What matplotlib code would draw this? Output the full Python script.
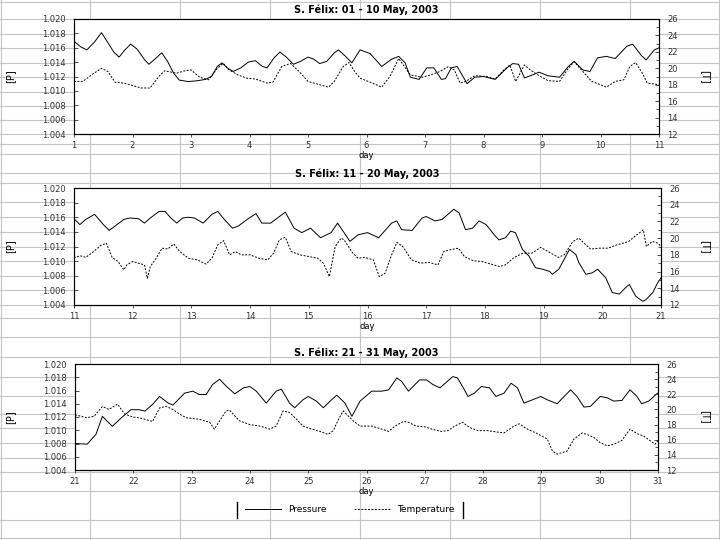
import numpy as np
import matplotlib
matplotlib.use("Agg")
import matplotlib.pyplot as plt
from matplotlib.lines import Line2D
from matplotlib.ticker import FormatStrFormatter, MultipleLocator

#### Data ####
# pressure [bar] and temperature [C] as (day, value) pairs

titles = ["S. Félix: 01 - 10 May, 2003",
          "S. Félix: 11 - 20 May, 2003",
          "S. Félix: 21 - 31 May, 2003"]
day_ranges = [(1, 11), (11, 21), (21, 31)]

p1 = [(1.00, 1.0169), (1.12, 1.0161), (1.22, 1.0157), (1.35, 1.0168), (1.47, 1.0181), (1.58, 1.0167),
      (1.68, 1.0154), (1.77, 1.0147), (1.87, 1.0157), (1.97, 1.0165), (2.08, 1.0158), (2.20, 1.0144),
      (2.28, 1.0137), (2.38, 1.0144), (2.50, 1.0153), (2.60, 1.0141), (2.70, 1.0125), (2.80, 1.0115),
      (2.95, 1.0113), (3.10, 1.0114), (3.25, 1.0116), (3.35, 1.0120), (3.45, 1.0134), (3.53, 1.0139),
      (3.62, 1.0132), (3.72, 1.0127), (3.85, 1.0132), (3.98, 1.0140), (4.10, 1.0142), (4.22, 1.0134),
      (4.30, 1.0132), (4.42, 1.0146), (4.52, 1.0154), (4.63, 1.0147), (4.75, 1.0137), (4.87, 1.0141),
      (5.00, 1.0147), (5.10, 1.0144), (5.20, 1.0138), (5.32, 1.0141), (5.45, 1.0153), (5.52, 1.0157),
      (5.63, 1.0149), (5.75, 1.0139), (5.89, 1.0157), (6.06, 1.0152), (6.26, 1.0134), (6.43, 1.0144),
      (6.55, 1.0148), (6.66, 1.0139), (6.75, 1.0119), (6.90, 1.0116), (7.03, 1.0132), (7.15, 1.0132),
      (7.28, 1.0116), (7.35, 1.0117), (7.45, 1.0132), (7.55, 1.0134), (7.72, 1.0110), (7.85, 1.0119),
      (8.00, 1.0120), (8.20, 1.0116), (8.40, 1.0132), (8.50, 1.0138), (8.60, 1.0137), (8.70, 1.0118),
      (8.80, 1.0121), (8.95, 1.0126), (9.10, 1.0121), (9.30, 1.0119), (9.45, 1.0134), (9.55, 1.0141),
      (9.70, 1.0129), (9.82, 1.0127), (9.95, 1.0146), (10.10, 1.0148), (10.25, 1.0145), (10.45, 1.0162),
      (10.55, 1.0165), (10.70, 1.0149), (10.78, 1.0143), (10.92, 1.0157), (11.00, 1.0160)]

t1 = [(1.0, 18.4), (1.15, 18.4), (1.3, 19.2), (1.47, 20.0), (1.58, 19.6), (1.7, 18.3), (1.85, 18.2),
      (2.0, 17.9), (2.15, 17.6), (2.3, 17.6), (2.45, 19.0), (2.55, 19.7), (2.75, 19.4), (2.9, 19.7),
      (3.0, 19.8), (3.15, 18.9), (3.3, 18.6), (3.45, 20.0), (3.55, 20.6), (3.65, 19.8), (3.8, 19.2),
      (3.95, 18.8), (4.1, 18.7), (4.3, 18.2), (4.4, 18.3), (4.55, 20.2), (4.7, 20.6), (4.85, 19.6),
      (5.0, 18.4), (5.2, 18.0), (5.35, 17.7), (5.45, 18.4), (5.6, 20.2), (5.7, 20.7), (5.8, 19.6),
      (5.89, 18.8), (6.1, 18.2), (6.26, 17.7), (6.4, 19.0), (6.55, 21.2), (6.65, 20.2), (6.75, 19.2),
      (6.95, 18.9), (7.1, 19.2), (7.25, 19.6), (7.4, 20.2), (7.5, 19.8), (7.6, 18.2), (7.7, 18.4),
      (7.85, 19.1), (8.05, 19.0), (8.2, 18.7), (8.35, 19.8), (8.45, 20.4), (8.55, 18.4), (8.7, 20.4),
      (8.8, 19.8), (8.95, 19.1), (9.1, 18.5), (9.3, 18.4), (9.45, 20.0), (9.55, 20.8), (9.7, 19.6),
      (9.85, 18.4), (10.0, 18.0), (10.1, 17.7), (10.25, 18.4), (10.4, 18.6), (10.5, 20.2), (10.6, 20.7),
      (10.7, 19.6), (10.8, 18.2), (11.0, 18.0)]

p2 = [(11.0, 1.0158), (11.1, 1.0150), (11.2, 1.0157), (11.35, 1.0164), (11.5, 1.0150), (11.6, 1.0142),
      (11.7, 1.0148), (11.85, 1.0157), (11.95, 1.0159), (12.1, 1.0158), (12.2, 1.0152), (12.3, 1.0159),
      (12.45, 1.0168), (12.55, 1.0168), (12.65, 1.0159), (12.75, 1.0152), (12.85, 1.0159), (12.95, 1.0160),
      (13.05, 1.0159), (13.2, 1.0152), (13.35, 1.0164), (13.45, 1.0168), (13.55, 1.0158), (13.7, 1.0145),
      (13.8, 1.0148), (13.95, 1.0157), (14.1, 1.0165), (14.2, 1.0152), (14.35, 1.0152), (14.5, 1.0161),
      (14.6, 1.0167), (14.75, 1.0145), (14.88, 1.0139), (15.03, 1.0145), (15.2, 1.0132), (15.38, 1.0139),
      (15.49, 1.0152), (15.6, 1.0139), (15.7, 1.0127), (15.84, 1.0136), (16.0, 1.0139), (16.19, 1.0132),
      (16.41, 1.0152), (16.5, 1.0155), (16.58, 1.0143), (16.76, 1.0142), (16.93, 1.0159), (17.0, 1.0161),
      (17.15, 1.0155), (17.27, 1.0157), (17.37, 1.0164), (17.47, 1.0171), (17.56, 1.0166), (17.67, 1.0143),
      (17.79, 1.0145), (17.9, 1.0155), (18.02, 1.0150), (18.18, 1.0134), (18.24, 1.0129), (18.35, 1.0132),
      (18.44, 1.0141), (18.52, 1.0139), (18.64, 1.0116), (18.75, 1.0107), (18.86, 1.0091), (18.98, 1.0089),
      (19.1, 1.0086), (19.15, 1.0082), (19.26, 1.0089), (19.38, 1.0107), (19.44, 1.0116), (19.55, 1.0109),
      (19.6, 1.0098), (19.72, 1.0082), (19.83, 1.0084), (19.92, 1.0089), (20.06, 1.0077), (20.17, 1.0057),
      (20.29, 1.0055), (20.4, 1.0064), (20.46, 1.0068), (20.57, 1.0052), (20.69, 1.0045), (20.74, 1.0047),
      (20.86, 1.0057), (20.94, 1.0070), (21.0, 1.0077)]

t2 = [(11.0, 17.6), (11.1, 17.9), (11.2, 17.7), (11.3, 18.2), (11.45, 19.1), (11.55, 19.4), (11.65, 17.7),
      (11.75, 17.2), (11.85, 16.2), (11.9, 16.8), (12.0, 17.2), (12.1, 17.0), (12.2, 16.8), (12.25, 15.2),
      (12.3, 16.6), (12.4, 17.6), (12.5, 18.8), (12.6, 18.7), (12.7, 19.3), (12.8, 18.4), (12.95, 17.6),
      (13.1, 17.4), (13.25, 16.9), (13.35, 17.6), (13.45, 19.2), (13.55, 19.7), (13.65, 18.0), (13.75, 18.4),
      (13.85, 18.0), (14.0, 18.0), (14.15, 17.6), (14.3, 17.4), (14.4, 18.2), (14.5, 19.8), (14.6, 20.1),
      (14.7, 18.4), (14.85, 18.0), (15.0, 17.8), (15.15, 17.6), (15.25, 17.0), (15.35, 15.4), (15.45, 19.0),
      (15.55, 20.0), (15.6, 19.8), (15.75, 18.2), (15.84, 17.6), (15.95, 17.7), (16.1, 17.4), (16.2, 15.4),
      (16.3, 15.8), (16.4, 17.8), (16.5, 19.5), (16.6, 19.0), (16.75, 17.4), (16.9, 17.0), (17.05, 17.1),
      (17.2, 16.8), (17.3, 18.4), (17.4, 18.6), (17.55, 18.8), (17.65, 17.8), (17.8, 17.3), (17.95, 17.2),
      (18.1, 16.9), (18.25, 16.6), (18.35, 16.8), (18.5, 17.7), (18.65, 18.2), (18.8, 18.2), (18.95, 18.9),
      (19.1, 18.3), (19.25, 17.7), (19.35, 18.0), (19.5, 19.6), (19.6, 20.0), (19.72, 19.2), (19.8, 18.7),
      (19.95, 18.8), (20.1, 18.8), (20.25, 19.2), (20.45, 19.6), (20.55, 20.2), (20.7, 21.0), (20.75, 19.0),
      (20.85, 19.6), (20.95, 19.4), (21.0, 19.0)]

p3 = [(21.0, 1.0080), (21.21, 1.0079), (21.36, 1.0094), (21.47, 1.0121), (21.64, 1.0106), (21.81, 1.0120),
      (21.96, 1.0131), (22.1, 1.0131), (22.2, 1.0129), (22.33, 1.0139), (22.45, 1.0151), (22.6, 1.0141),
      (22.68, 1.0138), (22.88, 1.0156), (23.02, 1.0159), (23.13, 1.0154), (23.25, 1.0154), (23.36, 1.0169),
      (23.48, 1.0177), (23.6, 1.0166), (23.74, 1.0155), (23.89, 1.0164), (24.0, 1.0166), (24.11, 1.0159),
      (24.28, 1.0141), (24.45, 1.0159), (24.54, 1.0162), (24.68, 1.0141), (24.77, 1.0134), (24.91, 1.0146),
      (25.0, 1.0151), (25.14, 1.0144), (25.26, 1.0134), (25.4, 1.0146), (25.49, 1.0153), (25.63, 1.0141),
      (25.75, 1.0121), (25.89, 1.0144), (26.09, 1.0159), (26.26, 1.0159), (26.38, 1.0161), (26.52, 1.0179),
      (26.6, 1.0174), (26.72, 1.0159), (26.91, 1.0176), (27.03, 1.0176), (27.14, 1.0169), (27.26, 1.0164),
      (27.48, 1.0181), (27.56, 1.0179), (27.68, 1.0161), (27.74, 1.0151), (27.85, 1.0156), (27.97, 1.0166),
      (28.11, 1.0164), (28.22, 1.0151), (28.36, 1.0156), (28.48, 1.0171), (28.59, 1.0164), (28.7, 1.0141),
      (28.82, 1.0145), (28.99, 1.0151), (29.1, 1.0146), (29.27, 1.0140), (29.39, 1.0151), (29.5, 1.0161),
      (29.61, 1.0151), (29.73, 1.0135), (29.84, 1.0136), (30.01, 1.0151), (30.13, 1.0149), (30.24, 1.0144),
      (30.38, 1.0145), (30.52, 1.0161), (30.64, 1.0151), (30.72, 1.0140), (30.84, 1.0144), (30.98, 1.0155),
      (31.0, 1.0156)]

t3 = [(21.0, 19.3), (21.1, 19.1), (21.2, 18.9), (21.33, 19.1), (21.47, 20.4), (21.58, 20.0), (21.73, 20.7),
      (21.85, 19.4), (21.99, 19.0), (22.1, 18.9), (22.2, 18.7), (22.33, 18.4), (22.45, 20.2), (22.56, 20.4),
      (22.68, 20.0), (22.79, 19.4), (22.91, 18.9), (23.13, 18.7), (23.31, 18.3), (23.39, 17.4), (23.59, 19.8),
      (23.65, 19.9), (23.82, 18.5), (24.0, 18.0), (24.17, 17.8), (24.34, 17.4), (24.45, 17.8), (24.57, 19.8),
      (24.68, 19.6), (24.8, 18.7), (24.91, 17.8), (25.06, 17.4), (25.2, 17.1), (25.34, 16.7), (25.43, 17.2),
      (25.52, 18.7), (25.6, 19.8), (25.77, 18.5), (25.89, 17.8), (26.09, 17.8), (26.26, 17.4), (26.38, 17.1),
      (26.49, 17.8), (26.63, 18.4), (26.72, 18.3), (26.85, 17.8), (27.0, 17.7), (27.12, 17.4), (27.28, 17.1),
      (27.4, 17.2), (27.51, 17.8), (27.65, 18.3), (27.77, 17.6), (27.91, 17.2), (28.08, 17.2), (28.25, 17.0),
      (28.36, 16.9), (28.53, 17.8), (28.62, 18.1), (28.76, 17.4), (28.93, 16.8), (29.1, 16.1), (29.19, 14.5),
      (29.27, 14.1), (29.44, 14.5), (29.56, 16.1), (29.7, 16.9), (29.78, 16.7), (29.9, 16.3), (30.01, 15.6),
      (30.13, 15.2), (30.24, 15.4), (30.38, 15.9), (30.52, 17.4), (30.64, 16.8), (30.75, 16.5), (30.86, 15.9),
      (30.95, 15.4), (31.0, 15.9)]

pressure = [p1, p2, p3]
temperature = [t1, t2, t3]

p_ticks = [1.004, 1.006, 1.008, 1.010, 1.012, 1.014, 1.016, 1.018, 1.020]
t_ticks = [12, 14, 16, 18, 20, 22, 24, 26]

#### Figure ####
W, H = 720, 540
fig = plt.figure(figsize=(7.2, 5.4), dpi=100)

# spreadsheet cell grid behind the charts
grid_kw = dict(color='#c4c4c4', lw=0.8, zorder=-5, transform=fig.transFigure)
for gx in [1, 90, 180, 270, 360, 450, 540, 630, 719]:
    fig.add_artist(Line2D([gx / W, gx / W], [0, 1], **grid_kw))
for gy in [2, 19, 34, 48, 63, 77, 92, 106, 120, 134, 144, 154, 173, 183, 202, 217, 232, 247,
           261, 276, 290, 305, 318, 337, 357, 377, 396, 414, 428, 443, 458, 472, 491, 520, 538]:
    fig.add_artist(Line2D([0, 1], [1 - gy / H, 1 - gy / H], **grid_kw))

# axes boxes in pixels: left, top, right, bottom
boxes = [(74, 19, 659, 134), (74, 188, 661, 305), (75, 364, 658, 470)]
title_pads = [4, 8, 6]

for i in range(3):
    l, t, r, b = boxes[i]
    ax = fig.add_axes([l / W, 1 - b / H, (r - l) / W, (b - t) / H])
    ax.set_facecolor('white')
    ax2 = ax.twinx()

    dp, vp = zip(*pressure[i])
    dt, vt = zip(*temperature[i])
    ax.plot(dp, vp, color='black', lw=0.7, label='Pressure')
    ax2.plot(dt, vt, color='black', lw=0.7, ls=(0, (2, 1.5)), label='Temperature')

    d0, d1 = day_ranges[i]
    ax.set_xlim(d0, d1)
    ax.set_xticks(range(d0, d1 + 1))
    ax.set_ylim(1.004, 1.020)
    ax.set_yticks(p_ticks)
    ax.yaxis.set_major_formatter(FormatStrFormatter('%.3f'))
    ax2.set_ylim(12, 26)
    ax2.set_yticks(t_ticks)
    ax2.yaxis.set_minor_locator(MultipleLocator(1))

    for a in (ax, ax2):
        for s in a.spines.values():
            s.set_linewidth(0.8)
            s.set_color('black')
    ax.tick_params(axis='y', direction='in', length=3, width=0.6, labelsize=6, colors='#333333', pad=6)
    ax.tick_params(axis='x', direction='out', length=2, width=0.6, labelsize=6, colors='#333333', pad=3)
    ax2.tick_params(axis='y', which='both', direction='in', width=0.6, labelsize=6, colors='#333333', pad=6)
    ax2.tick_params(axis='y', which='major', length=3)
    ax2.tick_params(axis='y', which='minor', length=2)

    ax.set_title(titles[i], fontsize=7, fontweight='bold', pad=title_pads[i])
    ax.set_xlabel('day', fontsize=6, labelpad=1)
    ax.set_ylabel('[P]', fontsize=7)
    ax.yaxis.set_label_coords((15 - l) / (r - l), 0.5)
    ax2.set_ylabel('[T]', fontsize=7, rotation=-90, va='center')
    ax2.yaxis.set_label_coords((705 - l) / (r - l), 0.5)

# legend at the bottom
handles = [Line2D([], [], color='black', lw=0.7),
           Line2D([], [], color='black', lw=0.7, ls=(0, (2, 1.5)))]
fig.legend(handles, ['Pressure', 'Temperature'], loc='center', bbox_to_anchor=(350 / W, 1 - 510 / H),
           ncol=2, frameon=False, fontsize=6.5, handlelength=4, columnspacing=3)
for bx in [237, 463]:
    fig.add_artist(Line2D([bx / W, bx / W], [1 - 518 / H, 1 - 502 / H], color='black', lw=1,
                          transform=fig.transFigure))

plt.savefig('out.png', dpi=100)
